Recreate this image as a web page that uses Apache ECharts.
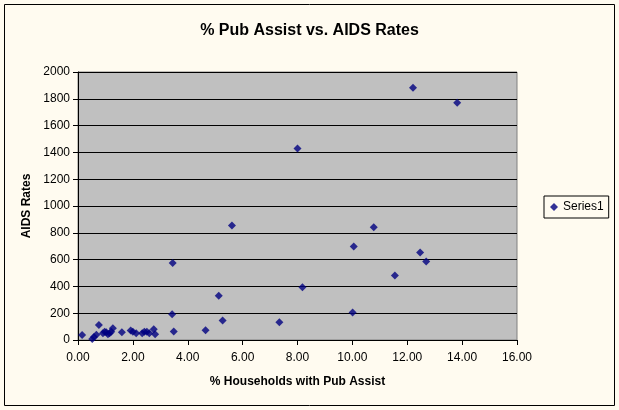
<!DOCTYPE html>
<html>
<head>
<meta charset="utf-8">
<script src="https://cdn.jsdelivr.net/npm/echarts@6/dist/echarts.min.js"></script>
<style>
  html, body { margin: 0; padding: 0; background: #fffbf0; }
  #main { width: 619px; height: 410px; }
</style>
</head>
<body>
<div id="main"></div>
<script>
// % households with pub assist (x) and AIDS rate (y)
var pubAssist = [
    0.15, 0.52, 0.58, 0.67, 0.76, 0.91, 0.97, 1.03, 1.09, 1.15,
    1.21, 1.27, 1.60, 1.92, 2.00, 2.12, 2.34, 2.42, 2.51, 2.60,
    2.76, 2.81, 3.43, 3.45, 3.49, 4.65, 5.13, 5.27, 5.61, 7.34,
    8.00, 8.18, 10.01, 10.05, 10.78, 11.55, 12.21, 12.47, 12.69, 13.82
];
var aidsRates = [
    37, 8, 22, 40, 112, 50, 62, 57, 42, 50,
    62, 87, 57, 70, 62, 50, 50, 62, 62, 50,
    80, 42, 193, 575, 64, 72, 331, 146, 855, 132,
    1429, 393, 206, 698, 842, 482, 1883, 653, 586, 1771
];

var points = pubAssist.map(function (x, i) { return [x, aidsRates[i]]; });

var labelFont = 'Liberation Sans, Arial, sans-serif';

var chart = echarts.init(document.getElementById('main'));

var option = {
    backgroundColor: '#fffbf0',
    animation: false,
    title: {
        text: '% Pub Assist vs. AIDS Rates',
        left: 'center',
        top: 18,
        textStyle: { fontFamily: labelFont, fontSize: 16, fontWeight: 'bold', color: '#000' }
    },
    legend: {
        orient: 'vertical',
        left: 544,
        top: 196,
        padding: [5, 5, 5, 6],
        borderColor: '#000',
        borderWidth: 1,
        itemWidth: 8,
        itemHeight: 8,
        itemGap: 4,
        textStyle: { fontFamily: labelFont, fontSize: 12, color: '#000' },
        data: [{ name: 'Series1', icon: 'diamond' }]
    },
    grid: {
        left: 78,
        right: 102,
        top: 72,
        bottom: 70,
        show: true,
        backgroundColor: '#c0c0c0',
        borderColor: '#808080',
        borderWidth: 1
    },
    xAxis: {
        type: 'value',
        min: 0,
        max: 16,
        interval: 2,
        name: '% Households with Pub Assist',
        nameLocation: 'middle',
        nameGap: 36,
        nameTextStyle: { fontFamily: labelFont, fontSize: 12, fontWeight: 'bold', color: '#000' },
        axisLine: { lineStyle: { color: '#000', width: 1 } },
        axisTick: { show: true, length: 5, lineStyle: { color: '#000' } },
        axisLabel: {
            fontFamily: labelFont, fontSize: 12, color: '#000', margin: 12,
            formatter: function (v) { return v.toFixed(2); }
        },
        splitLine: { show: false }
    },
    yAxis: {
        type: 'value',
        min: 0,
        max: 2000,
        interval: 200,
        name: 'AIDS Rates',
        nameLocation: 'middle',
        nameGap: 45,
        nameTextStyle: { fontFamily: labelFont, fontSize: 12, fontWeight: 'bold', color: '#000' },
        axisLine: { show: true, lineStyle: { color: '#000', width: 1 } },
        axisTick: { show: true, length: 5, lineStyle: { color: '#000' } },
        axisLabel: {
            fontFamily: labelFont, fontSize: 12, color: '#000', margin: 8,
            formatter: function (v) { return String(v); }
        },
        splitLine: { show: true, lineStyle: { color: '#000', width: 1 } }
    },
    graphic: [{
        type: 'rect',
        shape: { x: 4.5, y: 4.5, width: 610, height: 401 },
        style: { fill: 'none', stroke: '#000', lineWidth: 1 },
        silent: true
    }],
    series: [{
        name: 'Series1',
        type: 'scatter',
        symbol: 'diamond',
        symbolSize: 8,
        itemStyle: { color: '#000080' },
        data: points
    }]
};

chart.setOption(option);
</script>
</body>
</html>
